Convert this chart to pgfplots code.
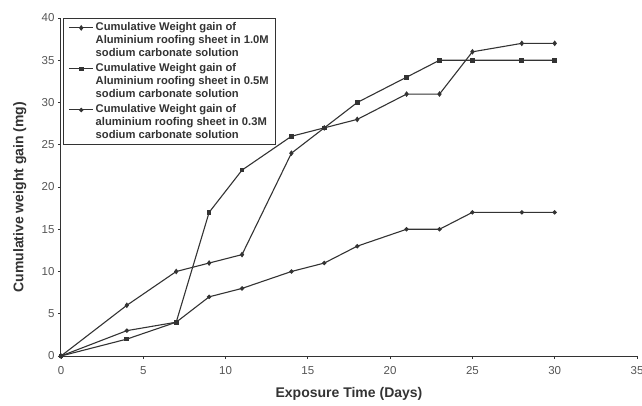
\documentclass[border=0pt]{standalone}
\usepackage{pgfplots}
\pgfplotsset{compat=1.18}
\usepackage{fontspec}
\setmainfont{Liberation Sans}
\definecolor{ln}{HTML}{333333}
\definecolor{tx}{HTML}{555555}
\begin{document}
\begin{tikzpicture}
\useasboundingbox (-61pt,-49pt) rectangle (581pt,356pt);
\begin{axis}[
  scale only axis, width=576pt, height=338pt,
  xmin=0, xmax=35, ymin=0, ymax=40,
  axis x line*=bottom, axis y line*=left,
  axis line style={ln, line width=1pt},
  xtick={0,5,...,35}, ytick={0,5,...,40},
  tick align=outside, major tick length=3pt,
  tick style={ln, line width=0.8pt},
  ticklabel style={font=\fontsize{11.5}{13}\selectfont, text=tx},
  xticklabel style={yshift=-4pt},
  /pgf/number format/assume math mode=true,
  xlabel={Exposure Time (Days)},
  ylabel={Cumulative weight gain (mg)},
  label style={font=\fontsize{14}{16}\selectfont\bfseries, text=ln},
  xlabel style={at={(axis description cs:0.5,-0.113)}, anchor=center},
  ylabel style={at={(axis description cs:-0.0715,0.47)}, anchor=center},
  legend style={at={(axis description cs:0.004,1.0)}, anchor=north west,
    draw=ln, line width=0.8pt, fill=white,
    font=\fontsize{11.2}{13.2}\selectfont\bfseries, text=ln,
    cells={align=left}, inner xsep=5pt, inner ysep=2pt, row sep=1pt},
  legend cell align=left,
  legend image code/.code={\draw[mark repeat=2,mark phase=2] plot coordinates {(0cm,12.5pt) (0.42cm,12.5pt) (0.84cm,12.5pt)};},
  every axis plot/.append style={ln, line width=1.1pt},
]
\addplot[mark=diamond*, mark size=2pt] coordinates {
(0,0) (4,6) (7,10) (9,11) (11,12) (14,24) (16,27) (18,28) (21,31) (23,31) (25,36) (28,37) (30,37)};
\addlegendentry{Cumulative Weight gain of\\Aluminium roofing sheet in 1.0M\\sodium carbonate solution}
\addplot[mark=square*, mark size=1.8pt] coordinates {
(0,0) (4,2) (7,4) (9,17) (11,22) (14,26) (16,27) (18,30) (21,33) (23,35) (25,35) (28,35) (30,35)};
\addlegendentry{Cumulative Weight gain of\\Aluminium roofing sheet in 0.5M\\sodium carbonate solution}
\addplot[mark=*, mark size=1.6pt] coordinates {
(0,0) (4,3) (7,4) (9,7) (11,8) (14,10) (16,11) (18,13) (21,15) (23,15) (25,17) (28,17) (30,17)};
\addlegendentry{Cumulative Weight gain of\\aluminium roofing sheet in 0.3M\\sodium carbonate solution}
\end{axis}
\end{tikzpicture}
\end{document}
